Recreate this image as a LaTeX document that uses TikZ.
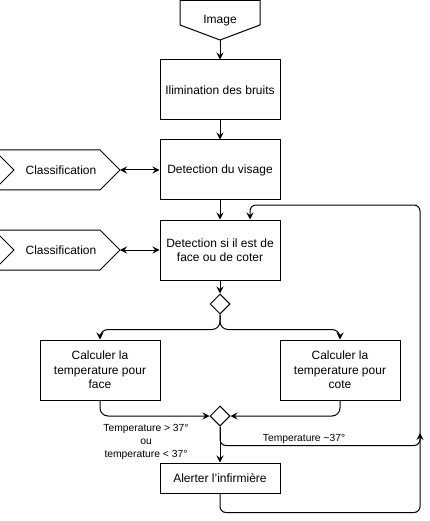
\documentclass[tikz,border=0pt]{standalone}
\usepackage{fontspec}
\setmainfont{Liberation Sans}
\usetikzlibrary{arrows.meta,shapes.geometric,calc}
\tikzset{
  box/.style={draw, minimum width=120pt, minimum height=60pt, inner sep=2pt, align=center, font=\fontsize{12}{14.4}\selectfont},
  dia/.style={draw, diamond, minimum width=20pt, minimum height=20pt, inner sep=0pt},
  tip/.tip={Stealth[length=7pt,width=7pt,inset=2.5pt]},
  arr/.style={-tip},
  darr/.style={tip-tip},
  shapetxt/.style={inner sep=0pt, font=\fontsize{12}{14.4}\selectfont},
  lbl/.style={font=\fontsize{10.3}{12.8}\selectfont, align=center, inner sep=0pt},
  conn/.style={draw, line width=1pt}
}
\begin{document}
\begin{tikzpicture}[x=1pt, y=-1pt, line width=1pt]
\clip (0,0) rectangle (429,521);
% Image off-page connector
\draw (180,0.5) -- (260,0.5) -- (260,25) -- (220,40) -- (180,25) -- cycle;
\node[shapetxt] (img) at (220,21) {Image};
\coordinate (imgtip) at (220,40);
% boxes
\node[box] (b1) at (220,90) {Ilimination des bruits};
\node[box] (b2) at (220,170) {Detection du visage};
\node[box] (b3) at (220,250) {Detection si il est de\\face ou de coter};
% classification steps
\draw (-6,150) -- (100,150) -- (120,170) -- (100,190) -- (-6,190) -- (14,170) -- cycle;
\node[shapetxt] (cls1) at (61,170) {Classification};
\coordinate (cls1e) at (120,170);
\draw (-6,230) -- (100,230) -- (120,250) -- (100,270) -- (-6,270) -- (14,250) -- cycle;
\node[shapetxt] (cls2) at (61,250) {Classification};
\coordinate (cls2e) at (120,250);
% diamonds
\node[dia] (d1) at (220,304) {};
\node[box] (bl) at (100,370) {Calculer la\\temperature pour\\face};
\node[box] (br) at (340,370) {Calculer la\\temperature pour\\cote};
\node[dia] (d2) at (220,416) {};
\node[box, minimum height=30pt] (alert) at (220,478) {Alerter l’infirmière};
% coordinates for loop
\coordinate (loopc) at (420,205);
\coordinate (b3in) at ($(b3.north)+(30,0)$);
\coordinate (j) at (420,433);
% connectors
\draw[arr] (imgtip) -- (b1.north);
\draw[arr] (b1.south) -- (b2.north);
\draw[darr] (cls1e) -- (b2.west);
\draw[arr] (b2.south) -- (b3.north);
\draw[darr] (cls2e) -- (b3.west);
\draw[arr] (b3.south) -- (d1.north);
\draw[arr, rounded corners=8pt] (d1.south) -- ++(0,15) -| (bl.north);
\draw[arr, rounded corners=8pt] (d1.south) -- ++(0,15) -| (br.north);
\draw[arr, rounded corners=8pt] (bl.south) |- (d2.west);
\draw[arr, rounded corners=8pt] (br.south) |- (d2.east);
\draw[arr] (d2.south) -- (alert.north);
\draw[arr, rounded corners=6pt] (d2.south) -- ++(0,19) -| (j);
\draw[arr, rounded corners=6pt] (alert.south) -- ++(0,19) -| (loopc) -| (b3in);
% labels
\node[lbl] (l1) at (146,442) {Temperature > 37°\\ou\\temperature < 37°};
\node[lbl] (l2) at (304,439) {Temperature \textasciitilde37°};
\end{tikzpicture}
\end{document}
